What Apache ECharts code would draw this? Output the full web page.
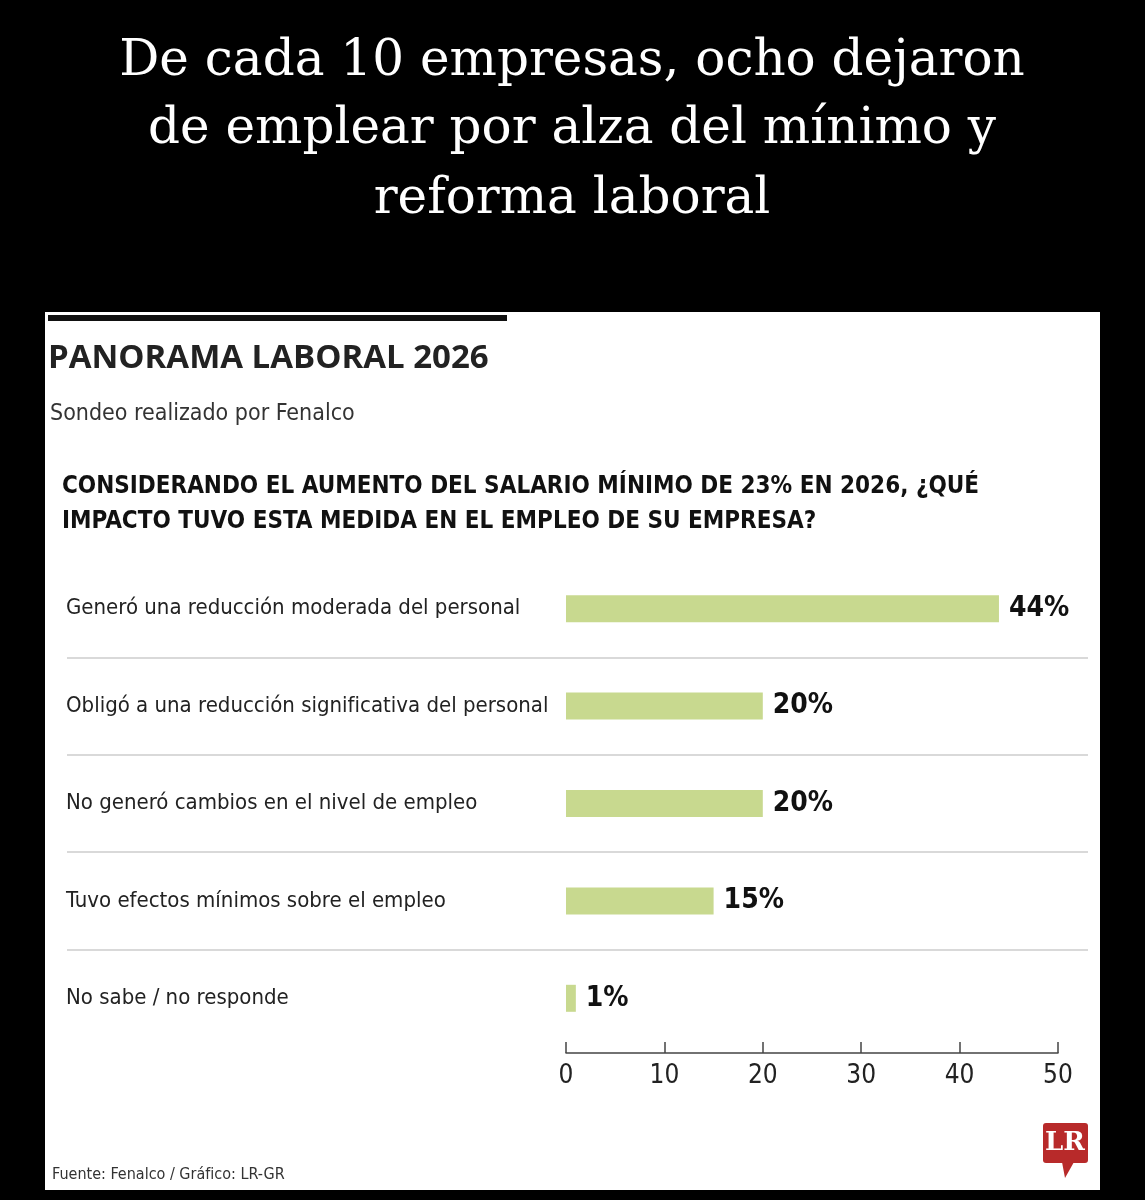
<!DOCTYPE html>
<html lang="es">
<head>
<meta charset="UTF-8" />
<title>Panorama laboral 2026</title>
<script src="https://cdn.jsdelivr.net/npm/echarts@6.0.0/dist/echarts.min.js"></script>
<style>
  html, body { margin: 0; padding: 0; background: #000; }
  #main { width: 1145px; height: 1200px; }
</style>
</head>
<body>
<div id="main"></div>
<script>
  const categories = [
    'Generó una reducción moderada del personal',
    'Obligó a una reducción significativa del personal',
    'No generó cambios en el nivel de empleo',
    'Tuvo efectos mínimos sobre el empleo',
    'No sabe / no responde'
  ];
  const values = [44, 20, 20, 15, 1];
  const xTicks = { min: 0, max: 50, interval: 10 };

  const narrow = '"DejaVu Sans Condensed", "Liberation Sans Narrow", sans-serif';
  const serif = '"DejaVu Serif", "Liberation Serif", serif';

  const chart = echarts.init(document.getElementById('main'));

  const options = {
    backgroundColor: '#000',
    animation: false,
    grid: { left: 566, right: 87, top: 560, bottom: 153 },
    xAxis: {
      type: 'value',
      min: xTicks.min,
      max: xTicks.max,
      interval: xTicks.interval,
      offset: 6,
      axisLine: { show: true, lineStyle: { color: '#444', width: 1.5 } },
      axisTick: { show: true, inside: true, length: 11, lineStyle: { color: '#444', width: 1.5 } },
      axisLabel: { color: '#222', fontFamily: narrow, fontSize: 26, margin: 10 },
      splitLine: { show: false }
    },
    yAxis: {
      type: 'category',
      inverse: true,
      data: categories,
      axisLine: { show: false },
      axisTick: { show: false },
      axisLabel: {
        align: 'left',
        margin: 500,
        color: '#222',
        fontFamily: narrow,
        fontSize: 22,
        verticalAlign: 'middle'
      },
      splitLine: { show: false }
    },
    series: [{
      type: 'bar',
      data: values,
      barWidth: 27,
      itemStyle: { color: '#c8d98f' },
      label: {
        show: true,
        position: 'right',
        distance: 10,
        formatter: '{c}%',
        color: '#111',
        fontFamily: narrow,
        fontWeight: 'bold',
        fontSize: 28
      }
    }],
    graphic: [
      { type: 'rect', z: -10, shape: { x: 45, y: 312, width: 1055, height: 878 }, style: { fill: '#fff' } },
      { type: 'rect', shape: { x: 48, y: 315, width: 459, height: 6 }, style: { fill: '#111' } },
      { type: 'text', x: 572, y: 62, style: { text: 'De cada 10 empresas, ocho dejaron', fill: '#fff', font: '50px ' + serif, align: 'center', verticalAlign: 'middle' } },
      { type: 'text', x: 572, y: 130, style: { text: 'de emplear por alza del mínimo y', fill: '#fff', font: '50px ' + serif, align: 'center', verticalAlign: 'middle' } },
      { type: 'text', x: 572, y: 200, style: { text: 'reforma laboral', fill: '#fff', font: '50px ' + serif, align: 'center', verticalAlign: 'middle' } },
      { type: 'text', x: 48, y: 359, style: { text: 'PANORAMA LABORAL 2026', fill: '#222', font: 'bold 33px "Open Sans", sans-serif', verticalAlign: 'middle' } },
      { type: 'text', x: 50, y: 414, style: { text: 'Sondeo realizado por Fenalco', fill: '#333', font: '23px ' + narrow, verticalAlign: 'middle' } },
      { type: 'text', x: 62, y: 487, style: { text: 'CONSIDERANDO EL AUMENTO DEL SALARIO MÍNIMO DE 23% EN 2026, ¿QUÉ', fill: '#111', font: 'bold 24px ' + narrow, verticalAlign: 'middle' } },
      { type: 'text', x: 62, y: 522, style: { text: 'IMPACTO TUVO ESTA MEDIDA EN EL EMPLEO DE SU EMPRESA?', fill: '#111', font: 'bold 24px ' + narrow, verticalAlign: 'middle' } },
      { type: 'line', shape: { x1: 67, y1: 658, x2: 1088, y2: 658 }, style: { stroke: '#ccc', lineWidth: 1.5 } },
      { type: 'line', shape: { x1: 67, y1: 755, x2: 1088, y2: 755 }, style: { stroke: '#ccc', lineWidth: 1.5 } },
      { type: 'line', shape: { x1: 67, y1: 852, x2: 1088, y2: 852 }, style: { stroke: '#ccc', lineWidth: 1.5 } },
      { type: 'line', shape: { x1: 67, y1: 950, x2: 1088, y2: 950 }, style: { stroke: '#ccc', lineWidth: 1.5 } },
      { type: 'text', x: 52, y: 1175, style: { text: 'Fuente: Fenalco / Gráfico: LR-GR', fill: '#333', font: '16px ' + narrow, verticalAlign: 'middle' } },
      { type: 'rect', shape: { x: 1043, y: 1123, width: 45, height: 40, r: 3 }, style: { fill: '#b82a2a' } },
      { type: 'polygon', shape: { points: [[1062, 1162], [1074, 1162], [1065, 1178]] }, style: { fill: '#b82a2a' } },
      { type: 'text', x: 1065, y: 1143, style: { text: 'LR', fill: '#fff', font: 'bold 26px ' + serif, align: 'center', verticalAlign: 'middle' } }
    ]
  };

  chart.setOption(options);
</script>
</body>
</html>
